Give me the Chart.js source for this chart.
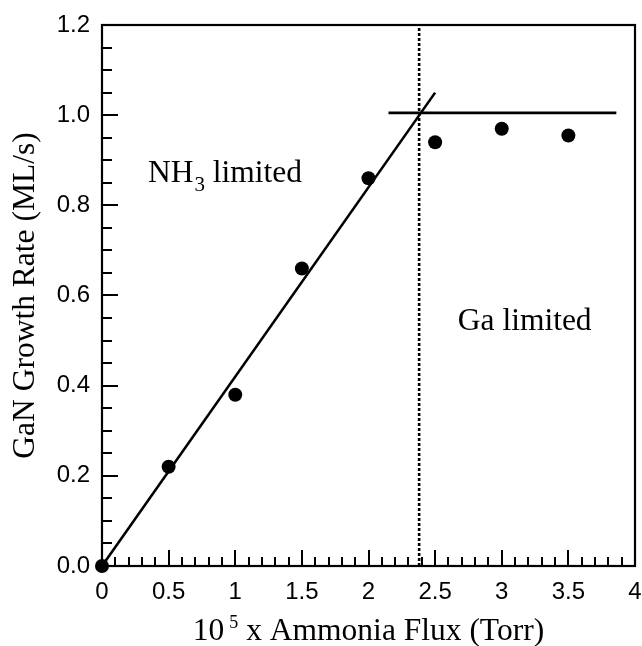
<!DOCTYPE html>
<html>
<head>
<meta charset="utf-8">
<title>GaN Growth Rate vs Ammonia Flux</title>
<script src="https://cdn.jsdelivr.net/npm/chart.js@4.4.1/dist/chart.umd.min.js"></script>
<style>
  html, body { margin: 0; padding: 0; background: #fff; }
  #wrap { width: 642px; height: 646px; }
</style>
</head>
<body>
<div id="wrap"><canvas id="growthChart" width="642" height="646"></canvas></div>
<script>
// measured growth rates (ML/s) against ammonia flux (1e-5 Torr)
const fluxValues = [0, 0.5, 1, 1.5, 2, 2.5, 3, 3.5];
const growthRates = [0, 0.22, 0.38, 0.66, 0.86, 0.94, 0.97, 0.955];

// NH3-limited fit line, Ga-limited plateau and the boundary between them
const fitX = [0, 2.5];
const fitY = [0, 1.05];
const plateauX = [2.15, 3.86];
const plateauY = [1.005, 1.005];
const boundaryX = [2.38, 2.38];
const boundaryY = [0, 1.2];

// axis ranges and tick steps
const xRange = [0, 4];
const yRange = [0, 1.2];
const xMajorStep = 0.5, xMinorStep = 0.1;
const yMajorStep = 0.2, yMinorStep = 0.05;

// region labels, anchored in data units
const regionLabels = [
  { x: 0.345, y: 0.852, main: 'NH', sub: '3', rest: ' limited' },
  { x: 2.67, y: 0.524, main: 'Ga limited', sub: '', rest: '' }
];

const SERIF = '"Liberation Serif", "Times New Roman", serif';
const SANS = '"Liberation Sans", Arial, Helvetica, sans-serif';
const TITLE_SIZE = 31.5;

const toPoints = (xs, ys) => xs.map((x, i) => ({ x, y: ys[i] }));

// inward tick marks, frame, axis titles and region labels
const decorations = {
  id: 'decorations',
  beforeDatasetsDraw(chart) {
    const { ctx, chartArea: a, scales } = chart;
    const sx = scales.x, sy = scales.y;
    ctx.save();
    ctx.strokeStyle = '#000';
    ctx.lineWidth = 2;
    ctx.beginPath();
    const nx = Math.round((xRange[1] - xRange[0]) / xMinorStep);
    const perX = Math.round(xMajorStep / xMinorStep);
    for (let i = 0; i <= nx; i++) {
      const px = Math.round(sx.getPixelForValue(xRange[0] + i * xMinorStep));
      const len = i % perX === 0 ? 16 : 9;
      ctx.moveTo(px, a.bottom);
      ctx.lineTo(px, a.bottom - len);
    }
    const ny = Math.round((yRange[1] - yRange[0]) / yMinorStep);
    const perY = Math.round(yMajorStep / yMinorStep);
    for (let i = 0; i <= ny; i++) {
      const py = Math.round(sy.getPixelForValue(yRange[0] + i * yMinorStep));
      const len = i % perY === 0 ? 16 : 10;
      ctx.moveTo(a.left, py);
      ctx.lineTo(a.left + len, py);
    }
    ctx.stroke();

    // frame
    ctx.lineWidth = 2.2;
    ctx.strokeRect(a.left, a.top, a.right - a.left, a.bottom - a.top);
    ctx.restore();
  },
  afterDatasetsDraw(chart) {
    const { ctx, chartArea: a, scales } = chart;
    const sx = scales.x, sy = scales.y;
    const big = TITLE_SIZE + 'px ' + SERIF;
    ctx.save();
    ctx.fillStyle = '#000';
    ctx.textBaseline = 'alphabetic';
    ctx.textAlign = 'left';

    regionLabels.forEach(l => {
      let px = sx.getPixelForValue(l.x);
      const py = sy.getPixelForValue(l.y);
      ctx.font = big;
      ctx.fillText(l.main, px, py);
      px += ctx.measureText(l.main).width;
      if (l.sub) {
        ctx.font = '21px ' + SERIF;
        ctx.fillText(l.sub, px + 1, py + 9);
        px += ctx.measureText(l.sub).width + 1;
      }
      if (l.rest) {
        ctx.font = big;
        ctx.fillText(l.rest, px, py);
      }
    });

    // x axis title with superscript exponent
    const base = '10', exp = '5', tail = ' x Ammonia Flux (Torr)';
    ctx.font = big;
    const wBase = ctx.measureText(base).width;
    const wTail = ctx.measureText(tail).width;
    ctx.font = '18px ' + SERIF;
    const wExp = ctx.measureText(exp).width;
    const gap = 5;
    const total = wBase + gap + wExp + wTail;
    let tx = (a.left + a.right) / 2 - total / 2;
    const ty = 640;
    ctx.font = big;
    ctx.fillText(base, tx, ty);
    tx += wBase + gap;
    ctx.font = '18px ' + SERIF;
    ctx.fillText(exp, tx, ty - 12);
    tx += wExp;
    ctx.font = big;
    ctx.fillText(tail, tx, ty);

    // y axis title
    ctx.translate(34, (a.top + a.bottom) / 2);
    ctx.rotate(-Math.PI / 2);
    ctx.textAlign = 'center';
    ctx.font = big;
    ctx.fillText('GaN Growth Rate (ML/s)', 0, 0);
    ctx.restore();
  }
};

const lineStyle = {
  showLine: true,
  pointRadius: 0,
  borderColor: '#000',
  backgroundColor: '#000',
  fill: false,
  tension: 0
};

new Chart(document.getElementById('growthChart').getContext('2d'), {
  type: 'scatter',
  data: {
    datasets: [
      {
        label: 'Growth rate',
        data: toPoints(fluxValues, growthRates),
        pointRadius: 7,
        pointBackgroundColor: '#000',
        pointBorderWidth: 0,
        showLine: false,
        clip: false
      },
      Object.assign({ label: 'NH3 limited fit', data: toPoints(fitX, fitY), borderWidth: 2.6 }, lineStyle),
      Object.assign({ label: 'Ga limited', data: toPoints(plateauX, plateauY), borderWidth: 2.6 }, lineStyle),
      Object.assign({ label: 'Boundary', data: toPoints(boundaryX, boundaryY), borderWidth: 2.6, borderDash: [3, 2] }, lineStyle)
    ]
  },
  options: {
    responsive: false,
    devicePixelRatio: 1,
    animation: false,
    events: [],
    layout: { padding: { top: 25, right: 7, left: 0, bottom: 0 } },
    plugins: {
      legend: { display: false },
      tooltip: { enabled: false }
    },
    scales: {
      x: {
        type: 'linear',
        min: xRange[0],
        max: xRange[1],
        grid: { display: false, drawTicks: false },
        border: { display: false },
        ticks: {
          stepSize: xMajorStep,
          color: '#000',
          padding: 12,
          maxRotation: 0,
          font: { family: SANS, size: 24 },
          callback: v => String(v)
        },
        afterFit: s => { s.height = 80; s.paddingLeft = 0; s.paddingRight = 0; }
      },
      y: {
        type: 'linear',
        min: yRange[0],
        max: yRange[1],
        grid: { display: false, drawTicks: false },
        border: { display: false },
        ticks: {
          stepSize: yMajorStep,
          color: '#000',
          padding: 12,
          font: { family: SANS, size: 24 },
          callback: v => v.toFixed(1)
        },
        afterFit: s => { s.width = 102; s.paddingTop = 0; s.paddingBottom = 0; }
      }
    }
  },
  plugins: [decorations]
});
</script>
</body>
</html>
